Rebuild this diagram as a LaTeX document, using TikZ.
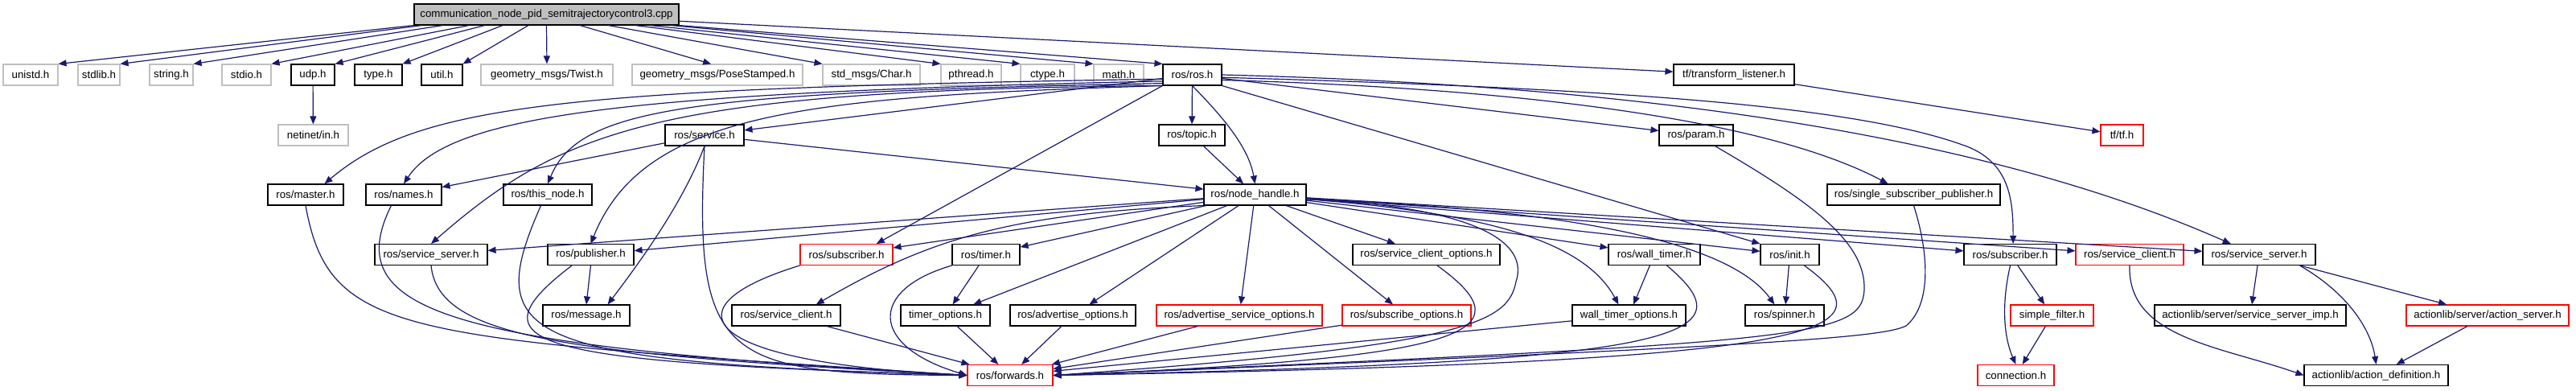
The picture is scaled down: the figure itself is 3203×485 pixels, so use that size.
\documentclass[tikz,border=0pt]{standalone}
\usepackage{fontspec}
\setmainfont{Liberation Sans}
\usetikzlibrary{arrows.meta}
\definecolor{edgeblue}{HTML}{191970}
\definecolor{sysgray}{HTML}{BFBFBF}
\definecolor{mainfill}{HTML}{BFBFBF}
\tikzset{
	hfile/.style={draw=black, line width=1.1pt, minimum height=26pt, inner sep=0pt, font=\fontsize{13.3}{15}\selectfont},
	sysfile/.style={hfile, draw=sysgray},
	redfile/.style={hfile, draw=red},
	inc/.style={edgeblue, line width=1.2pt, -{Triangle[length=10pt,width=8pt]}}
}
\begin{document}
\begin{tikzpicture}[x=1pt, y=-1pt]
			%%%%% START %%%%%
			\useasboundingbox (0,0) rectangle (3203,485);
			
			\node[hfile, fill=mainfill, minimum width=329pt] (main) at (679.5,18) {communication\_node\_pid\_semitrajectorycontrol3.cpp};
			
			\node[sysfile, minimum width=68pt] (unistd) at (38,93) {unistd.h};
			\node[sysfile, minimum width=52pt] (stdlib) at (123,93) {stdlib.h};
			\node[sysfile, minimum width=54pt] (string) at (213,93) {string.h};
			\node[sysfile, minimum width=61pt] (stdio) at (306.5,93) {stdio.h};
			\node[hfile, minimum width=54pt] (udp) at (389,93) {udp.h};
			\node[hfile, minimum width=59pt] (type) at (470.5,93) {type.h};
			\node[hfile, minimum width=51pt] (util) at (549.5,93) {util.h};
			\node[sysfile, minimum width=164pt] (twist) at (680,93) {geometry\_msgs/Twist.h};
			\node[sysfile, minimum width=212pt] (pose) at (892,93) {geometry\_msgs/PoseStamped.h};
			\node[sysfile, minimum width=121pt] (char) at (1083.5,93) {std\_msgs/Char.h};
			\node[sysfile, minimum width=75pt] (pthread) at (1207.5,93) {pthread.h};
			\node[sysfile, minimum width=67pt] (ctype) at (1302.5,93) {ctype.h};
			\node[sysfile, minimum width=62pt] (math) at (1391,93) {math.h};
			\node[hfile, minimum width=73pt] (ros) at (1482.5,93) {ros/ros.h};
			\node[hfile, minimum width=150pt] (tflisten) at (2156,93) {tf/transform\_listener.h};
			
			\node[sysfile, minimum width=87pt] (netinet) at (389.5,168) {netinet/in.h};
			\node[hfile, minimum width=98pt] (service) at (876,168) {ros/service.h};
			\node[hfile, minimum width=82pt] (topic) at (1482,168) {ros/topic.h};
			\node[hfile, minimum width=92pt] (param) at (2109,168) {ros/param.h};
			\node[redfile, minimum width=53pt] (tf) at (2638.5,168) {tf/tf.h};
			
			\node[hfile, minimum width=94pt] (master) at (380,242) {ros/master.h};
			\node[hfile, minimum width=94pt] (names) at (502,242) {ros/names.h};
			\node[hfile, minimum width=110pt] (thisnode) at (681,242) {ros/this\_node.h};
			\node[hfile, minimum width=127pt] (nodehandle) at (1560.5,242) {ros/node\_handle.h};
			\node[hfile, minimum width=215pt] (singlesub) at (2379.5,242) {ros/single\_subscriber\_publisher.h};
			
			\node[hfile, minimum width=140pt] (srvserver) at (536,316.5) {ros/service\_server.h};
			\node[hfile, minimum width=107pt] (publisher) at (734.5,316.5) {ros/publisher.h};
			\node[redfile, minimum width=115pt] (subscriberR) at (1052.5,316.5) {ros/subscriber.h};
			\node[hfile, minimum width=84pt] (timer) at (1226,316.5) {ros/timer.h};
			\node[hfile, minimum width=183pt] (srvclientopts) at (1773.5,316.5) {ros/service\_client\_options.h};
			\node[hfile, minimum width=114pt] (walltimer) at (2057,316.5) {ros/wall\_timer.h};
			\node[hfile, minimum width=73pt] (init) at (2225.5,316.5) {ros/init.h};
			\node[hfile, minimum width=115pt] (subscriberB) at (2499.5,316.5) {ros/subscriber.h};
			\node[redfile, minimum width=134pt] (srvclientR) at (2648,316.5) {ros/service\_client.h};
			\node[hfile, minimum width=140pt] (srvserverB) at (2809,316.5) {ros/service\_server.h};
			
			\node[hfile, minimum width=108pt] (message) at (729,392) {ros/message.h};
			\node[hfile, minimum width=135pt] (srvclient) at (977.5,392) {ros/service\_client.h};
			\node[hfile, minimum width=111pt] (timeropts) at (1175.5,392) {timer\_options.h};
			\node[hfile, minimum width=156pt] (advopts) at (1334,392) {ros/advertise\_options.h};
			\node[redfile, minimum width=206pt] (advsrvopts) at (1541,392) {ros/advertise\_service\_options.h};
			\node[redfile, minimum width=160pt] (subopts) at (1749,392) {ros/subscribe\_options.h};
			\node[hfile, minimum width=141pt] (walltimeropts) at (2025.5,392) {wall\_timer\_options.h};
			\node[hfile, minimum width=98pt] (spinner) at (2219,392) {ros/spinner.h};
			\node[redfile, minimum width=103pt] (simplefilter) at (2551.5,392) {simple\_filter.h};
			\node[hfile, minimum width=238pt] (srvimp) at (2798,392) {actionlib/server/service\_server\_imp.h};
			\node[redfile, minimum width=202pt] (actionserver) at (3093,392) {actionlib/server/action\_server.h};
			
			\node[redfile, minimum width=106pt] (forwards) at (1256,466.5) {ros/forwards.h};
			\node[redfile, minimum width=95pt] (connection) at (2506.5,466.5) {connection.h};
			\node[hfile, minimum width=179pt] (actiondef) at (2954.5,466.5) {actionlib/action\_definition.h};
			
			% main file
			\draw[inc] (main.south west) -- (unistd.north east);
			\draw[inc] (main.185.3) -- (stdlib.north east);
			\draw[inc] (main.186.5) -- (string.north east);
			\draw[inc] (main.188.3) -- (stdio.north east);
			\draw[inc] (main.190.6) -- (udp.north east);
			\draw[inc] (main.194.7) -- (type.north east);
			\draw[inc] (main.211) -- (util.north east);
			\draw[inc] (main.south) -- (twist.north);
			\draw[inc] (main.342.2) -- (pose.120);
			\draw[inc] (main.350.8) -- (char.north west);
			\draw[inc] (main.353.3) -- (pthread.north west);
			\draw[inc] (main.354.3) -- (ctype.north west);
			\draw[inc] (main.355.1) -- (math.north west);
			\draw[inc] (main.south east) -- (ros.north west);
			\draw[inc] (main) -- (tflisten);
			
			\draw[inc] (udp) -- (netinet);
			\draw[inc] (tflisten) -- (tf);
			
			% ros/ros.h
			\draw[inc] (ros) -- (service);
			\draw[inc] (ros) -- (topic);
			\draw[inc] (ros.188) .. controls (700,110) and (520,130) .. (master.30);
			\draw[inc] (ros.192) .. controls (800,115) and (560,140) .. (names.north);
			\draw[inc] (ros.196) .. controls (850,115) and (720,135) .. (thisnode.north);
			\draw[inc] (ros.200) .. controls (820,112) and (700,160) .. (srvserver.north);
			\draw[inc] (ros.south west) .. controls (1000,120) and (800,140) .. (publisher.north);
			\draw[inc] (ros.south) .. controls (1515,140) and (1552,180) .. (nodehandle.north);
			\draw[inc] (ros.south west) -- (subscriberR.20);
			\draw[inc] (ros) -- (param);
			\draw[inc] (ros.350) .. controls (1900,110) and (2200,150) .. (singlesub.157);
			\draw[inc] (ros.south east) -- (init.north west);
			\draw[inc] (ros.355) .. controls (2000,110) and (2300,130) .. (2440,180) .. controls (2500,200) and (2503,250) .. (subscriberB.75);
			\draw[inc] (ros.east) .. controls (2000,105) and (2450,160) .. (srvserverB.159);
			
			% ros/service.h, ros/topic.h, ros/param.h
			\draw[inc] (service) -- (nodehandle);
			\draw[inc] (service) -- (names);
			\draw[inc] (service.south) .. controls (850,250) and (800,320) .. (message.27);
			\draw[inc] (service.south) .. controls (862,450) and (900,465) .. (forwards.west);
			\draw[inc] (topic) -- (nodehandle);
			\draw[inc] (param.-30) .. controls (2250,250) and (2320,300) .. (2318,360) .. controls (2315,420) and (2250,425) .. (forwards.east);
			\draw[inc] (singlesub.south) .. controls (2400,320) and (2400,380) .. (2370,405) .. controls (2340,420) and (2200,430) .. (forwards.east);
			
			% ros/node_handle.h
			\draw[inc] (nodehandle) -- (srvserver);
			\draw[inc] (nodehandle) -- (publisher);
			\draw[inc] (nodehandle) -- (subscriberR);
			\draw[inc] (nodehandle) -- (timer);
			\draw[inc] (nodehandle.south west) .. controls (1250,265) and (1150,300) .. (srvclient.20);
			\draw[inc] (nodehandle) -- (timeropts);
			\draw[inc] (nodehandle) -- (advopts);
			\draw[inc] (nodehandle) -- (advsrvopts);
			\draw[inc] (nodehandle) -- (subopts);
			\draw[inc] (nodehandle) -- (srvclientopts);
			\draw[inc] (nodehandle.-5) .. controls (1800,255) and (1905,290) .. (1885,350) .. controls (1875,400) and (1830,430) .. (forwards.east);
			\draw[inc] (nodehandle) -- (walltimer);
			\draw[inc] (nodehandle.-5) .. controls (1850,265) and (1970,300) .. (walltimeropts.134);
			\draw[inc] (nodehandle) -- (init);
			\draw[inc] (nodehandle.-5) .. controls (1950,260) and (2150,300) .. (spinner.133);
			\draw[inc] (nodehandle) -- (subscriberB);
			\draw[inc] (nodehandle) -- (srvclientR);
			\draw[inc] (nodehandle) -- (srvserverB);
			
			% into ros/forwards.h
			\draw[inc] (master.south) .. controls (410,420) and (500,420) .. (forwards.west);
			\draw[inc] (names.221) .. controls (420,390) and (560,430) .. (forwards.west);
			\draw[inc] (thisnode.238) .. controls (600,420) and (640,450) .. (forwards.west);
			\draw[inc] (srvserver.south) .. controls (545,420) and (700,440) .. (forwards.west);
			\draw[inc] (publisher.210) .. controls (580,430) and (660,450) .. (forwards.west);
			\draw[inc] (publisher.south) -- (message.north);
			\draw[inc] (subscriberR.south west) .. controls (830,380) and (860,450) .. (forwards.west);
			\draw[inc] (timer.south west) .. controls (1080,360) and (1080,430) .. (forwards.west);
			\draw[inc] (timer) -- (timeropts);
			\draw[inc] (srvclient) -- (forwards);
			\draw[inc] (timeropts) -- (forwards);
			\draw[inc] (advopts) -- (forwards);
			\draw[inc] (advsrvopts) -- (forwards);
			\draw[inc] (subopts) -- (forwards);
			\draw[inc] (srvclientopts.-45) .. controls (1905,415) and (1820,445) .. (forwards.east);
			\draw[inc] (walltimer) -- (walltimeropts);
			\draw[inc] (walltimer.-41) .. controls (2180,420) and (2090,450) .. (forwards.east);
			\draw[inc] (walltimeropts) -- (forwards);
			\draw[inc] (init) -- (spinner);
			\draw[inc] (init.-37) .. controls (2360,415) and (2270,450) .. (forwards.east);
			
			% right part
			\draw[inc] (subscriberB.south) .. controls (2488,380) and (2492,420) .. (connection.north);
			\draw[inc] (subscriberB) -- (simplefilter);
			\draw[inc] (simplefilter) -- (connection);
			\draw[inc] (srvclientR.south) .. controls (2645,420) and (2760,430) .. (actiondef.west);
			\draw[inc] (srvserverB) -- (srvimp);
			\draw[inc] (srvserverB.-15) .. controls (2920,365) and (2948,410) .. (actiondef.north);
			\draw[inc] (srvserverB) -- (actionserver);
			\draw[inc] (actionserver) -- (actiondef);
			
			%%%%% END %%%%%
\end{tikzpicture}
\end{document}
